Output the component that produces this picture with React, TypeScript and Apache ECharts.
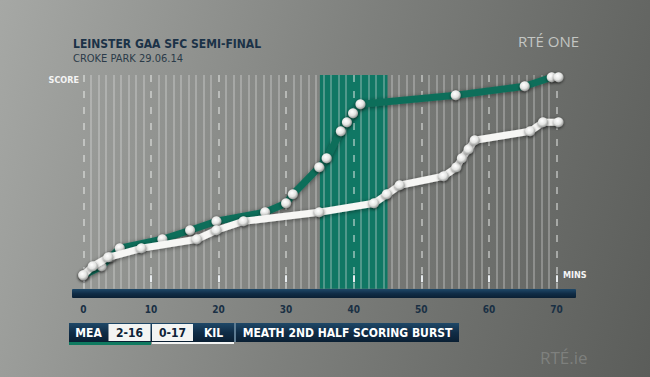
import React, { useEffect, useRef } from "react";
import * as echarts from "echarts";

// Cumulative scores (points) against minutes played
const meathMins = [0, 2.7, 4.0, 5.4, 11.7, 15.8, 19.7, 26.9, 30.0, 31.0, 34.9, 36.0, 38.1, 39.0, 39.9, 41.0, 55.1, 65.3, 69.3, 70.3];
const meathScores = [0, 1, 2, 3, 4, 5, 6, 7, 8, 9, 12, 13, 16, 17, 18, 19, 20, 21, 22, 22];
const kildareMins = [0, 1.4, 3.7, 8.6, 16.8, 19.7, 23.7, 34.9, 43.0, 44.9, 46.8, 53.3, 55.2, 56.0, 57.0, 57.9, 66.1, 68.0, 70.3];
const kildareScores = [0, 1, 2, 3, 4, 5, 6, 7, 8, 9, 10, 11, 12, 13, 14, 15, 16, 17, 17];
const burstStart = 35;
const burstEnd = 45;
const minuteTicks = [0, 10, 20, 30, 40, 50, 60, 70];
const scoreboard = { home: "MEA", homeScore: "2-16", awayScore: "0-17", away: "KIL", caption: "MEATH 2ND HALF SCORING BURST" };

const FONT = "'DejaVu Sans Condensed', 'Liberation Sans Narrow', 'DejaVu Sans', sans-serif";

const dotStyle = {
  color: {
    type: "radial", x: 0.4, y: 0.35, r: 0.7,
    colorStops: [
      { offset: 0, color: "#ffffff" },
      { offset: 0.55, color: "#e4e5e3" },
      { offset: 1, color: "#8a8c8a" },
    ],
  },
  shadowBlur: 3,
  shadowColor: "rgba(0,0,0,0.6)",
  shadowOffsetY: 1,
};

const navyFill = {
  type: "linear", x: 0, y: 0, x2: 0, y2: 1,
  colorStops: [
    { offset: 0, color: "#1f4868" },
    { offset: 0.5, color: "#102d47" },
    { offset: 1, color: "#0a1f33" },
  ],
};

export default function App() {
  const ref = useRef<HTMLDivElement>(null);
  useEffect(() => {
    if (!ref.current) return;
    const chart = echarts.init(ref.current, null, { renderer: "svg" });
    const textY = 333;
    chart.setOption({
      animation: false,
      grid: { left: 83.3, right: 93.5, top: 75, bottom: 88.2 },
      xAxis: {
        type: "value", min: 0, max: 70, interval: 10, position: "bottom", offset: 1,
        axisLine: { show: false },
        axisTick: { show: true, length: 7, lineStyle: { color: "#e8ecef", width: 2 } },
        axisLabel: {
          margin: 15, color: "#1a3044", fontSize: 10, fontWeight: "bold", fontFamily: FONT,
          customValues: minuteTicks,
        },
        splitLine: { show: true, lineStyle: { color: "rgba(240,242,240,0.62)", width: 1.5, type: [7, 9] } },
        minorTick: { show: false, splitNumber: 9 },
        minorSplitLine: { show: true, lineStyle: { color: "rgba(230,232,230,0.4)", width: 1.5 } },
        z: 1,
      },
      yAxis: { type: "value", min: -1.5, max: 22.25, show: false, splitLine: { show: false } },
      series: [
        {
          type: "line", data: [], z: 0, silent: true,
          markArea: {
            silent: true, z: -1,
            itemStyle: { color: "#107764" },
            data: [[{ xAxis: burstStart }, { xAxis: burstEnd }]],
          },
        },
        {
          name: "MEA", type: "line", clip: false, z: 3,
          data: meathMins.map((m, i) => [m, meathScores[i]]),
          lineStyle: { color: "#0e6e5a", width: 7, shadowBlur: 4, shadowColor: "rgba(0,0,0,0.45)", shadowOffsetY: 1 },
          symbol: "circle", symbolSize: 10, itemStyle: dotStyle,
        },
        {
          name: "KIL", type: "line", clip: false, z: 4,
          data: kildareMins.map((m, i) => [m, kildareScores[i]]),
          lineStyle: { color: "#f6f6f4", width: 7, shadowBlur: 4, shadowColor: "rgba(0,0,0,0.45)", shadowOffsetY: 1 },
          symbol: "circle", symbolSize: 10, itemStyle: dotStyle,
        },
      ],
      graphic: [
        { type: "rect", z: -10, shape: { x: 72, y: 289, width: 504, height: 9, r: 1 }, style: { fill: navyFill } },
        { type: "text", x: 73, y: 44, style: { text: "LEINSTER GAA SFC SEMI-FINAL", fill: "#1b3247", font: `bold 12px ${FONT}`, verticalAlign: "middle" } },
        { type: "text", x: 73, y: 58, style: { text: "CROKE PARK 29.06.14", fill: "#2b3b49", font: `11px ${FONT}`, verticalAlign: "middle" } },
        { type: "text", x: 79, y: 80, style: { text: "SCORE", fill: "#f4f4f4", font: `bold 9px ${FONT}`, align: "right", verticalAlign: "middle" } },
        { type: "text", x: 563, y: 275, style: { text: "MINS", fill: "#f4f4f4", font: `bold 9px ${FONT}`, verticalAlign: "middle" } },
        { type: "text", x: 518, y: 41, style: { text: "RTÉ ONE", fill: "rgba(225,228,225,0.75)", font: `15px 'Open Sans', ${FONT}`, verticalAlign: "middle" } },
        { type: "text", x: 540, y: 357, style: { text: "RTÉ.ie", fill: "rgba(150,152,150,0.55)", font: `17px 'Open Sans', ${FONT}`, verticalAlign: "middle" } },
        // scoreboard
        { type: "rect", shape: { x: 69, y: 323, width: 390, height: 19 }, style: { fill: navyFill } },
        { type: "rect", shape: { x: 108.5, y: 324, width: 42, height: 17 }, style: { fill: "#f3f4f3" } },
        { type: "rect", shape: { x: 152, y: 324, width: 41, height: 17 }, style: { fill: "#f3f4f3" } },
        { type: "rect", shape: { x: 234, y: 323, width: 2, height: 19 }, style: { fill: "#5d7c93" } },
        { type: "rect", shape: { x: 69, y: 342, width: 82, height: 3 }, style: { fill: "#0f7a60" } },
        { type: "rect", shape: { x: 152, y: 342, width: 82, height: 2 }, style: { fill: "#f3f4f3" } },
        { type: "text", x: 88.5, y: textY, style: { text: scoreboard.home, fill: "#ffffff", font: `bold 12px ${FONT}`, align: "center", verticalAlign: "middle" } },
        { type: "text", x: 129.5, y: textY, style: { text: scoreboard.homeScore, fill: "#0d2236", font: `bold 12px ${FONT}`, align: "center", verticalAlign: "middle" } },
        { type: "text", x: 172.5, y: textY, style: { text: scoreboard.awayScore, fill: "#0d2236", font: `bold 12px ${FONT}`, align: "center", verticalAlign: "middle" } },
        { type: "text", x: 213.5, y: textY, style: { text: scoreboard.away, fill: "#ffffff", font: `bold 12px ${FONT}`, align: "center", verticalAlign: "middle" } },
        { type: "text", x: 347.5, y: textY, style: { text: scoreboard.caption, fill: "#ffffff", font: `bold 12px ${FONT}`, align: "center", verticalAlign: "middle" } },
      ],
    });
    return () => chart.dispose();
  }, []);
  return (
    <div
      ref={ref}
      style={{
        position: "fixed", left: 0, top: 0, width: 650, height: 377,
        background: "linear-gradient(105deg, #a6a8a5 0%, #929491 25%, #7e807d 50%, #6c6e6b 75%, #5b5d5a 100%)",
      }}
    />
  );
}
